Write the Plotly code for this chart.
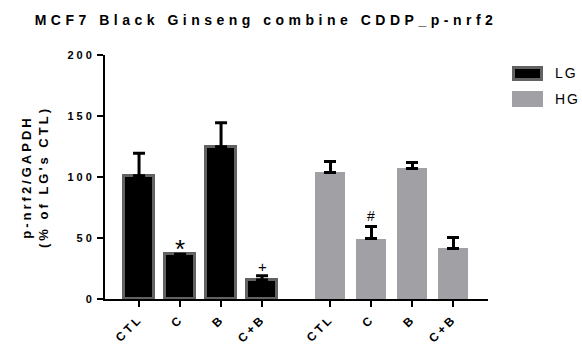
import plotly.graph_objects as go

# ---- data ----
categories = ["CTL", "C", "B", "C+B"]
groups = ["LG", "HG"]
lg_values = [101.0, 36.6, 124.8, 15.6]
lg_errors = [18.4, None, 19.7, 3.5]
hg_values = [103.8, 49.2, 107.0, 41.5]
hg_errors = [9.2, 10.6, 4.7, 9.0]
lg_marks = ["", "*", "", "+"]
hg_marks = ["", "#", "", ""]
y_ticks = [0, 50, 100, 150, 200]
title_text = "MCF7 Black Ginseng combine CDDP_p-nrf2"
y_title_lines = ["p-nrf2/GAPDH", "(% of LG's CTL)"]

# ---- styling ----
FONT = "Liberation Sans, Arial, sans-serif"
LG_FILL = "#000000"
LG_EDGE = "#626262"
HG_FILL = "#a1a1a5"
group_offsets = [0.0, 4.66]
mark_style = {"*": (26, 5), "+": (15, 9), "#": (14, 10)}  # font size, px shift


def sp(t, px):
    return f'<span style="letter-spacing:{px}px">{t}</span>'


fig = go.Figure()

series = [
    (groups[0], lg_values, lg_errors, lg_marks, LG_FILL, LG_EDGE, 3),
    (groups[1], hg_values, hg_errors, hg_marks, HG_FILL, HG_FILL, 0),
]

tickvals, ticktext = [], []
annotations = []
for gi, (name, vals, errs, marks, fill, edge, lw) in enumerate(series):
    xs = [group_offsets[gi] + i for i in range(len(categories))]
    tickvals += xs
    ticktext += [sp(c, 3) for c in categories]
    fig.add_trace(go.Bar(
        x=xs, y=vals, name=name, width=0.74,
        marker=dict(color=fill, line=dict(color=edge, width=lw)),
        error_y=dict(type="data", symmetric=False,
                     array=[e if e is not None else float("nan") for e in errs],
                     arrayminus=[0] * len(errs),
                     color="black", thickness=3, width=6),
        showlegend=False,
    ))
    for x, v, e, m in zip(xs, vals, errs, marks):
        if m:
            size, shift = mark_style[m]
            annotations.append(dict(
                x=x, y=v + (e or 0), xref="x", yref="y", text=m, showarrow=False,
                yanchor="middle", yshift=shift,
                font=dict(family=FONT, size=size, color="black"),
            ))

L, R, T, B = 105, 94, 55, 48
W, H = 582, 347
pw, ph = W - L - R, H - T - B

# legend drawn manually (boxes + labels)
shapes = []
leg = [(groups[0], LG_FILL, LG_EDGE, 66, 81), (groups[1], HG_FILL, HG_FILL, 91, 107)]
for name, fill, edge, y0, y1 in leg:
    shapes.append(dict(type="rect", xref="paper", yref="paper",
                       x0=(513.5 - L) / pw, x1=(541.5 - L) / pw,
                       y0=(H - B - y1 + 1.5) / ph, y1=(H - B - y0 - 1.5) / ph,
                       fillcolor=fill, line=dict(color=edge, width=3)))
    annotations.append(dict(xref="paper", yref="paper", x=(553 - L) / pw,
                            y=(H - B - (y0 + y1) / 2) / ph, xanchor="left",
                            yanchor="middle", showarrow=False, text=sp(name, 2),
                            font=dict(family=FONT, size=14, color="black")))

# y-axis title
annotations.append(dict(
    xref="paper", yref="paper", x=(35 - L) / pw, y=0.5, xanchor="center",
    yanchor="middle", textangle=-90, showarrow=False,
    text="<br>".join(sp(t, 3) for t in y_title_lines),
    font=dict(family=FONT, size=13, color="black", weight="bold"),
))

fig.update_layout(
    width=W, height=H,
    margin=dict(l=L, r=R, t=T, b=B, autoexpand=False),
    paper_bgcolor="white", plot_bgcolor="white",
    title=dict(text=sp(title_text, 4.5), x=266 / W, xanchor="center",
               y=1 - 20 / H, yanchor="middle", xref="container", yref="container",
               font=dict(family=FONT, size=14, color="black", weight="bold")),
    xaxis=dict(range=[-0.83, 8.51], tickvals=tickvals, ticktext=ticktext,
               tickangle=-45, ticks="outside", ticklen=6, tickwidth=2,
               tickcolor="black", showline=True, linewidth=2, linecolor="black",
               showgrid=False, zeroline=False, automargin=False,
               tickfont=dict(family=FONT, size=12, color="black", weight="bold")),
    yaxis=dict(range=[0, 200], tickvals=y_ticks,
               ticktext=[sp(str(t), 3) for t in y_ticks],
               ticks="outside", ticklen=6, tickwidth=2, tickcolor="black",
               showline=True, linewidth=2, linecolor="black",
               showgrid=False, zeroline=False, automargin=False,
               tickfont=dict(family=FONT, size=11, color="black", weight="bold")),
    annotations=annotations, shapes=shapes, bargap=0,
)

fig.write_html("out.html", config={"displayModeBar": False},
               post_script="document.body.style.margin='0';document.body.style.overflow='hidden';")
